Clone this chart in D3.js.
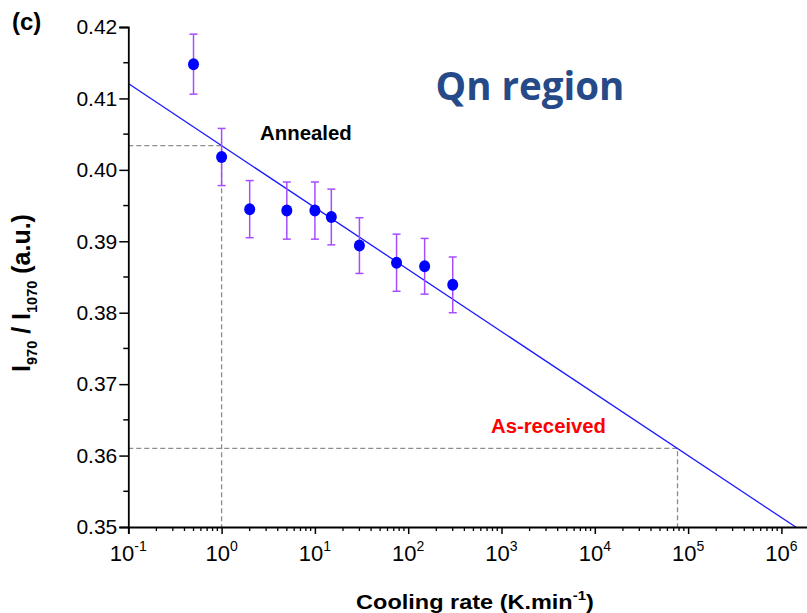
<!DOCTYPE html>
<html>
<head>
<meta charset="utf-8">
<script src="https://cdn.jsdelivr.net/npm/d3@7"></script>
<style>
  body { margin: 0; background: #fff; }
  svg { display: block; font-family: "Liberation Sans", Arial, sans-serif; }
</style>
</head>
<body>
<svg id="chart" width="807" height="613"></svg>
<script>
// cooling rate (K/min) and I970/I1070 ratio
const rates = [0.5, 1, 2, 5, 10, 15, 30, 75, 150, 300];
const ratios = [0.4148, 0.4018, 0.3945, 0.3943, 0.3943, 0.3934, 0.3894, 0.3870, 0.3865, 0.3839];
const errors = [0.0042, 0.0040, 0.0040, 0.0040, 0.0040, 0.0039, 0.0039, 0.0040, 0.0039, 0.0039];

// linear fit ratio = a + b*log10(rate)
const fitA = 0.4034, fitB = -0.00868;
const fitRange = [0.1, 1.45e6];

// reading lines
const annealed = {rate: 1, ratio: 0.4034};
const asReceived = {rate: 7.7e4, ratio: 0.3610};

const yTicks = [0.35, 0.36, 0.37, 0.38, 0.39, 0.40, 0.41, 0.42];
const xTicks = [1e-1, 1e0, 1e1, 1e2, 1e3, 1e4, 1e5, 1e6];

const svg = d3.select("#chart");
const margin = {top: 27, left: 128, bottom: 86};
const height = +svg.attr("height");
const innerBottom = height - margin.bottom;
const font = "'Liberation Sans', Arial, sans-serif";

const x = d3.scaleLog().domain([0.1, 2e6]).range([128.3, 809.5]);
const y = d3.scaleLinear().domain([0.35, 0.42]).range([innerBottom, margin.top]);

// dashed guide lines
const guides = svg.append("g")
    .attr("stroke", "#8c8c8c")
    .attr("stroke-width", 1.3)
    .attr("stroke-dasharray", "5,3")
    .attr("fill", "none");
[annealed, asReceived].forEach(g => {
  guides.append("path")
      .attr("d", `M${x.range()[0]},${y(g.ratio)}H${x(g.rate)}V${innerBottom}`);
});

// fit line
const fitLine = d3.line()
    .x(d => x(d))
    .y(d => y(fitA + fitB * Math.log10(d)));
svg.append("path")
    .datum(fitRange)
    .attr("d", fitLine)
    .attr("fill", "none")
    .attr("stroke", "#1a1aff")
    .attr("stroke-width", 1.3);

// error bars
const pts = rates.map((r, i) => ({r, v: ratios[i], e: errors[i]}));
const eb = svg.append("g")
    .attr("stroke", "#a64dff")
    .attr("stroke-width", 1.5);
eb.selectAll("line.v").data(pts).join("line")
    .attr("x1", d => x(d.r)).attr("x2", d => x(d.r))
    .attr("y1", d => y(d.v + d.e)).attr("y2", d => y(d.v - d.e));
eb.selectAll("line.t").data(pts).join("line")
    .attr("x1", d => x(d.r) - 4).attr("x2", d => x(d.r) + 4)
    .attr("y1", d => y(d.v + d.e)).attr("y2", d => y(d.v + d.e));
eb.selectAll("line.b").data(pts).join("line")
    .attr("x1", d => x(d.r) - 4).attr("x2", d => x(d.r) + 4)
    .attr("y1", d => y(d.v - d.e)).attr("y2", d => y(d.v - d.e));

svg.append("g").selectAll("ellipse").data(pts).join("ellipse")
    .attr("cx", d => x(d.r))
    .attr("cy", d => y(d.v))
    .attr("rx", 5.5)
    .attr("ry", 6)
    .attr("fill", "#0000ff");

// y axis
const yAxis = svg.append("g")
    .attr("transform", `translate(${x.range()[0]},0)`)
    .attr("font-family", font)
    .call(d3.axisLeft(y).tickValues(yTicks).tickFormat(d3.format(".2f")).tickSize(9).tickPadding(2));
yAxis.selectAll(".tick line").attr("stroke-width", 1.5);
yAxis.selectAll("text").attr("font-size", 21).attr("fill", "#000");
yAxis.select(".domain").attr("stroke-width", 1.8);
yAxis.selectAll(".minor").data(d3.range(0.355, 0.42, 0.01)).join("line")
    .attr("class", "minor")
    .attr("x1", -5).attr("x2", 0)
    .attr("y1", d => y(d)).attr("y2", d => y(d))
    .attr("stroke", "#000").attr("stroke-width", 1.5);

// x axis
const xAxis = svg.append("g")
    .attr("transform", `translate(0,${innerBottom})`)
    .attr("font-family", font)
    .call(d3.axisBottom(x).tickValues(xTicks).tickFormat("").tickSize(7));
xAxis.select(".domain").attr("stroke-width", 1.8);
xAxis.selectAll(".tick line").attr("stroke-width", 1.5);
const minorX = [];
xTicks.forEach(t => d3.range(2, 10).forEach(k => { if (t * k < 2e6) minorX.push(t * k); }));
xAxis.selectAll(".minor").data(minorX).join("line")
    .attr("class", "minor")
    .attr("x1", d => x(d)).attr("x2", d => x(d))
    .attr("y1", 0).attr("y2", 4)
    .attr("stroke", "#000").attr("stroke-width", 1.3);
const xl = xAxis.selectAll(".lab").data(xTicks).join("text")
    .attr("class", "lab")
    .attr("x", d => x(d))
    .attr("y", 34)
    .attr("text-anchor", "middle")
    .attr("font-size", 22)
    .attr("fill", "#000");
xl.append("tspan").text("10");
xl.append("tspan")
    .attr("dy", -10)
    .attr("font-size", 14)
    .text(d => Math.round(Math.log10(d)));

// axis titles
const xt = svg.append("text")
    .attr("transform", "translate(475,609) scale(1,0.85)")
    .attr("text-anchor", "middle")
    .attr("font-size", 23.5).attr("font-weight", "bold");
xt.append("tspan").text("Cooling rate (K.min");
xt.append("tspan").attr("dy", -11).attr("font-size", 15).text("-1");
xt.append("tspan").attr("dy", 11).text(")");

const yt = svg.append("text")
    .attr("transform", "translate(30,293) rotate(-90)")
    .attr("text-anchor", "middle")
    .attr("font-size", 25).attr("font-weight", "bold");
yt.append("tspan").text("I");
yt.append("tspan").attr("dy", 7).attr("font-size", 14.5).text("970");
yt.append("tspan").attr("dy", -7).text(" / I");
yt.append("tspan").attr("dy", 7).attr("font-size", 14.5).text("1070");
yt.append("tspan").attr("dy", -7).text(" (a.u.)");

// annotations
svg.append("text").attr("x", 12).attr("y", 30)
    .attr("font-size", 24).attr("font-weight", "bold").text("(c)");
svg.append("text").attr("x", 530).attr("y", 100)
    .attr("text-anchor", "middle")
    .attr("font-family", "'Open Sans', sans-serif")
    .attr("font-size", 38.5).attr("font-weight", "bold")
    .attr("fill", "#254a87").text("Qn region");
svg.append("text").attr("x", 260).attr("y", 140)
    .attr("font-size", 20.4).attr("font-weight", "bold").text("Annealed");
svg.append("text").attr("x", 491).attr("y", 433)
    .attr("font-size", 20.3).attr("font-weight", "bold")
    .attr("fill", "#ff0000").text("As-received");
</script>
</body>
</html>
